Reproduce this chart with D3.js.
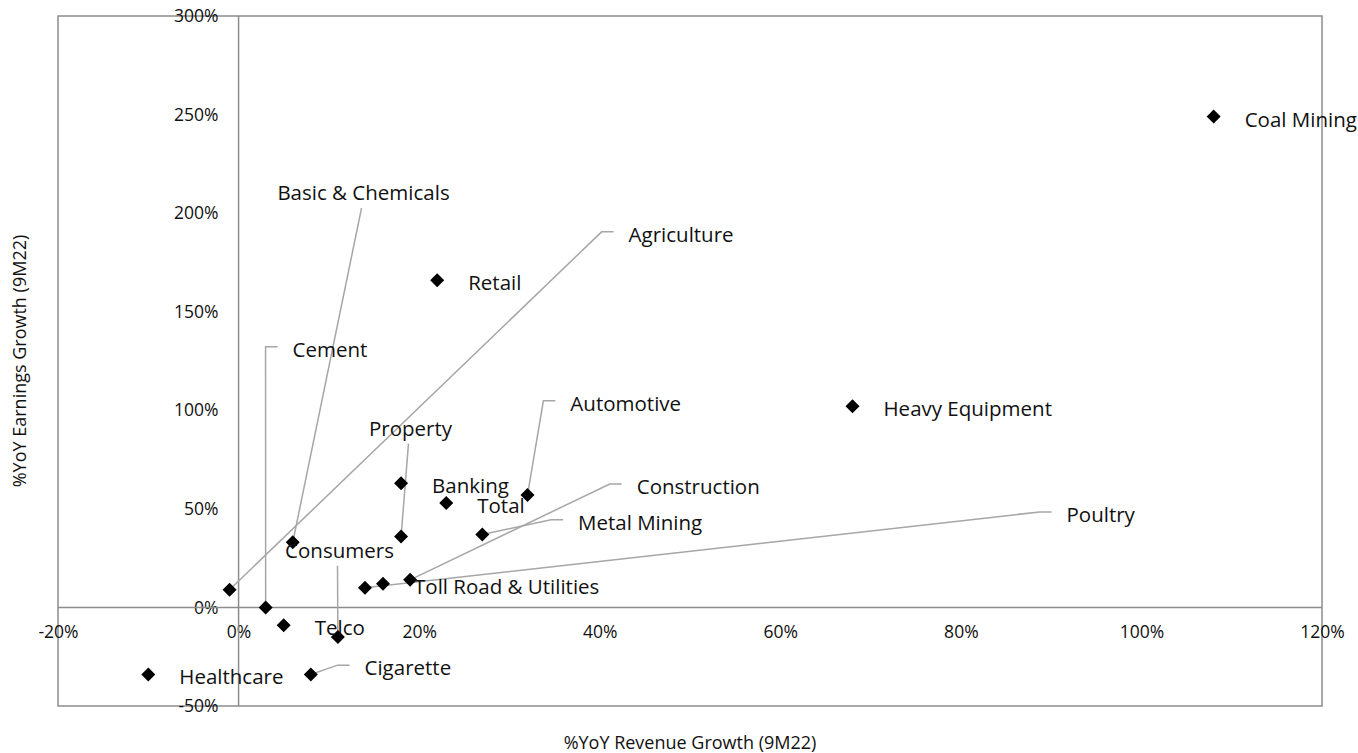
<!DOCTYPE html>
<html>
<head>
<meta charset="utf-8">
<script src="https://cdn.jsdelivr.net/npm/d3@7/dist/d3.min.js"></script>
<style>
  html, body { margin: 0; padding: 0; background: #ffffff; }
  svg { display: block; font-family: "Open Sans", "Noto Sans", sans-serif; }
</style>
</head>
<body>
<svg id="chart" width="1358" height="753"></svg>
<script>
// Sector names, revenue growth (x, %) and earnings growth (y, %) for 9M22
const sectors = ["Coal Mining", "Heavy Equipment", "Retail", "Automotive", "Banking", "Total",
  "Property", "Metal Mining", "Construction", "Toll Road & Utilities", "Poultry",
  "Basic & Chemicals", "Consumers", "Telco", "Cement", "Agriculture", "Healthcare", "Cigarette"];
const revenueGrowth = [108, 68, 22, 32, 18, 23, 18, 27, 19, 16, 14, 6, 11, 5, 3, -1, -10, 8];
const earningsGrowth = [249, 102, 166, 57, 63, 53, 36, 37, 14, 12, 10, 33, -15, -9, 0, 9, -34, -34];

// Axis ticks (%)
const xTicks = [-20, 0, 20, 40, 60, 80, 100, 120];
const yTicks = [-50, 0, 50, 100, 150, 200, 250, 300];

// Labels moved away from their points, given in axis units.
// "elbow": text starts at the anchor, leader comes in from the left.
// "drop": text is centred on the anchor, leader hangs from below it.
const movedLabels = [
  { name: "Cement",            x: 5.98,  y: 131.2, leader: "elbow" },
  { name: "Agriculture",       x: 43.2,  y: 189.5, leader: "elbow" },
  { name: "Automotive",        x: 36.75, y: 103.8, leader: "elbow" },
  { name: "Metal Mining",      x: 37.6,  y: 43.5,  leader: "elbow" },
  { name: "Construction",      x: 44.1,  y: 61.6,  leader: "elbow" },
  { name: "Poultry",           x: 91.7,  y: 47.4,  leader: "elbow" },
  { name: "Cigarette",         x: 13.95, y: -30.3, leader: "elbow" },
  { name: "Basic & Chemicals", x: 13.84, y: 210.7, leader: "drop" },
  { name: "Property",          x: 19.04, y: 91.2,  leader: "drop" },
  { name: "Consumers",         x: 11.18, y: 29.2,  leader: "drop" }
];

const points = sectors.map((name, i) => ({ name, x: revenueGrowth[i], y: earningsGrowth[i] }));

const svg = d3.select("#chart");
const plot = { left: 58, right: 1322, top: 16, bottom: 706 };

const x = d3.scaleLinear().domain([-20, 120]).range([plot.left, plot.right]);
const y = d3.scaleLinear().domain([-50, 300]).range([plot.bottom, plot.top]);

const axisGrey = "#8c8c8c";
const leaderGrey = "#a6a6a6";
const textColour = "#111111";
const pct = d => d + "%";

// Plot frame
svg.append("rect")
  .attr("x", plot.left).attr("y", plot.top)
  .attr("width", plot.right - plot.left).attr("height", plot.bottom - plot.top)
  .attr("fill", "none").attr("stroke", axisGrey).attr("stroke-width", 1.5);

// Axes crossing at zero
const xAxis = d3.axisBottom(x).tickValues(xTicks).tickFormat(pct).tickSize(0).tickPadding(18);
const yAxis = d3.axisLeft(y).tickValues(yTicks).tickFormat(pct).tickSize(0).tickPadding(20);

const gx = svg.append("g").attr("transform", `translate(0,${y(0)})`).call(xAxis);
const gy = svg.append("g").attr("transform", `translate(${x(0)},0)`).call(yAxis);

[gx, gy].forEach(g => {
  g.select(".domain").remove();
  g.selectAll("text").attr("font-size", 17.5).attr("fill", textColour)
    .attr("font-family", "\"Open Sans\", \"Noto Sans\", sans-serif");
});
gx.selectAll("text").attr("dy", "0.71em");

svg.append("line")
  .attr("x1", plot.left).attr("x2", plot.right)
  .attr("y1", y(0)).attr("y2", y(0))
  .attr("stroke", axisGrey).attr("stroke-width", 1.5);
svg.append("line")
  .attr("x1", x(0)).attr("x2", x(0))
  .attr("y1", plot.top).attr("y2", plot.bottom)
  .attr("stroke", axisGrey).attr("stroke-width", 1.5);

// Axis titles
svg.append("text")
  .attr("x", (plot.left + plot.right) / 2).attr("y", 742)
  .attr("text-anchor", "middle").attr("dominant-baseline", "central")
  .attr("font-size", 18).attr("fill", textColour)
  .text("%YoY Revenue Growth (9M22)");
svg.append("text")
  .attr("transform", `translate(19,${(plot.top + plot.bottom) / 2}) rotate(-90)`)
  .attr("text-anchor", "middle").attr("dominant-baseline", "central")
  .attr("font-size", 18).attr("fill", textColour)
  .text("%YoY Earnings Growth (9M22)");

// Leader lines
const moved = new Map(movedLabels.map(d => [d.name, d]));
const leaders = svg.append("g").attr("fill", "none")
  .attr("stroke", leaderGrey).attr("stroke-width", 1.5);

points.forEach(p => {
  const m = moved.get(p.name);
  if (!m) return;
  const px = x(p.x), py = y(p.y);
  const lx = x(m.x), ly = y(m.y);
  if (m.leader === "elbow") {
    leaders.append("path")
      .attr("d", d3.line()([[px, py], [lx - 27, ly - 2], [lx - 15, ly - 2]]));
  } else {
    leaders.append("path")
      .attr("d", d3.line()([[px, py], [lx - 2, ly + 16]]));
  }
});

// Diamond markers
const r = 7;
svg.append("g").selectAll("path")
  .data(points).join("path")
  .attr("transform", d => `translate(${x(d.x)},${y(d.y)})`)
  .attr("d", `M0,${-r}L${r},0L0,${r}L${-r},0Z`)
  .attr("fill", "#000000");

// Data labels
svg.append("g").selectAll("text")
  .data(points).join("text")
  .attr("font-size", 20.5).attr("fill", textColour)
  .attr("dominant-baseline", "central")
  .each(function (d) {
    const m = moved.get(d.name);
    const t = d3.select(this);
    if (!m) {
      t.attr("x", x(d.x) + 31).attr("y", y(d.y) + 2).attr("text-anchor", "start");
    } else if (m.leader === "elbow") {
      t.attr("x", x(m.x)).attr("y", y(m.y)).attr("text-anchor", "start");
    } else {
      t.attr("x", x(m.x)).attr("y", y(m.y)).attr("text-anchor", "middle");
    }
  })
  .text(d => d.name);
</script>
</body>
</html>
